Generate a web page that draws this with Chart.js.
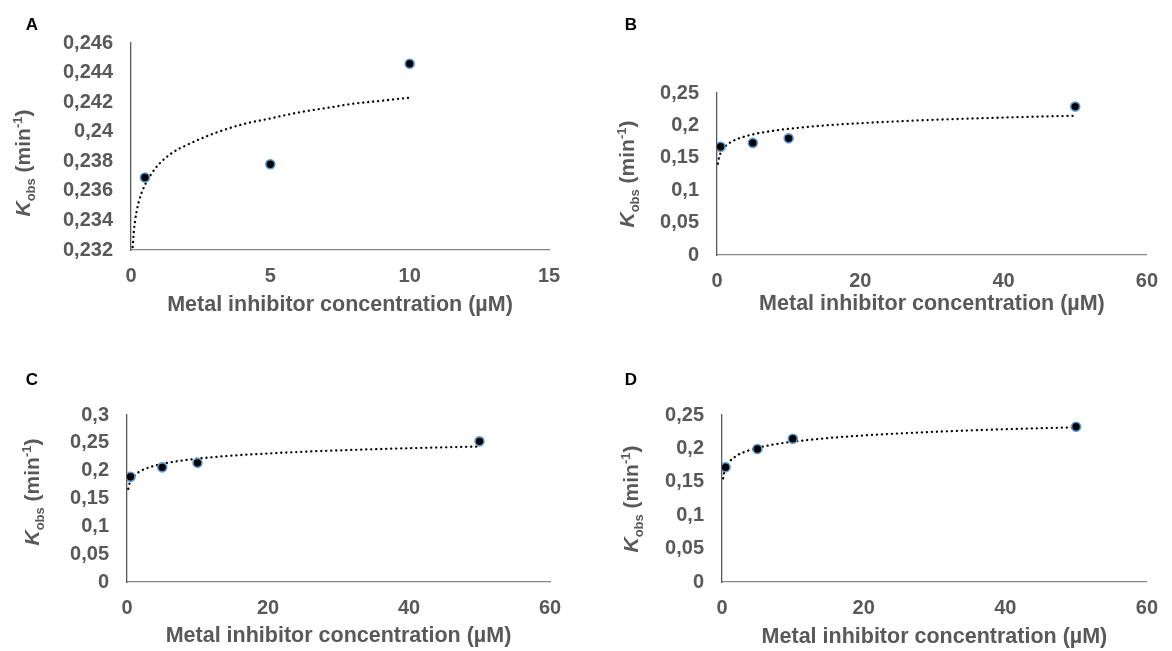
<!DOCTYPE html>
<html>
<head>
<meta charset="utf-8">
<script src="https://cdn.jsdelivr.net/npm/chart.js@4.4.1/dist/chart.umd.min.js"></script>
<style>
  body { margin: 0; background: #fff; }
  #wrap { position: relative; width: 1172px; height: 651px; overflow: hidden; }
  canvas { position: absolute; }
  .tag { position: absolute; font: bold 17px "Liberation Sans", Arial, sans-serif; color: #000; transform: translate(-50%, -50%); }
</style>
</head>
<body>
<div id="wrap">
  <canvas id="cA" width="580" height="330" style="left:0;top:0"></canvas>
  <canvas id="cB" width="592" height="330" style="left:580px;top:0"></canvas>
  <canvas id="cC" width="580" height="321" style="left:0;top:330px"></canvas>
  <canvas id="cD" width="592" height="321" style="left:580px;top:330px"></canvas>
  <div class="tag" style="left:32px;top:25px">A</div>
  <div class="tag" style="left:631px;top:25px">B</div>
  <div class="tag" style="left:32px;top:380px">C</div>
  <div class="tag" style="left:631px;top:380px">D</div>
</div>
<script>
// measured points (x in µM, Kobs in min-1)
const xA = [0.5, 5, 10];
const yA = [0.2369, 0.2378, 0.2446];
const xBCD = [0.5, 5, 10, 50];
const yB = [0.167, 0.173, 0.180, 0.229];
const yC = [0.189, 0.206, 0.214, 0.2527];
const yD = [0.1717, 0.1991, 0.2145, 0.2325];

// dotted trend lines
const trendXA = [0.06, 0.1, 0.15, 0.2, 0.3, 0.5, 0.75, 1, 1.5, 2, 3, 4, 5, 6, 7, 8, 9, 10];
const trendYA = [0.2322, 0.2332, 0.2340, 0.2346, 0.2354, 0.2364, 0.2372, 0.2378, 0.2386, 0.2391,
                 0.2399, 0.2405, 0.2409, 0.2413, 0.2416, 0.2419, 0.2421, 0.2423];
const trendXB = [0.135, 0.2, 0.3, 0.5, 0.75, 1, 1.5, 2, 3, 5, 7, 10, 15, 20, 25, 30, 35, 40, 45, 50];
const trendYB = [0.1410, 0.1459, 0.1510, 0.1573, 0.1624, 0.1660, 0.1711, 0.1747, 0.1797, 0.1861,
                 0.1903, 0.1948, 0.1999, 0.2034, 0.2062, 0.2085, 0.2104, 0.2121, 0.2136, 0.2149];
const trendXC = [0.18, 0.3, 0.5, 1, 2, 3, 5, 7, 10, 15, 20, 25, 30, 35, 40, 45, 50];
const trendYC = [0.1674, 0.1743, 0.1811, 0.1905, 0.1999, 0.2053, 0.2122, 0.2168, 0.2216, 0.2271,
                 0.2309, 0.2340, 0.2364, 0.2385, 0.2403, 0.2419, 0.2433];
const trendXD = [0.165, 0.3, 0.5, 1, 2, 3, 5, 7, 10, 15, 20, 25, 30, 35, 40, 45, 50];
const trendYD = [0.1552, 0.1632, 0.1700, 0.1793, 0.1886, 0.1940, 0.2008, 0.2053, 0.2101, 0.2155,
                 0.2194, 0.2224, 0.2248, 0.2269, 0.2287, 0.2302, 0.2316];

// axis ticks
const xTicksA = [0, 5, 10, 15];
const xTicksBCD = [0, 20, 40, 60];
const yTicksA = [0.232, 0.234, 0.236, 0.238, 0.24, 0.242, 0.244, 0.246];
const yTicksBD = [0, 0.05, 0.1, 0.15, 0.2, 0.25];
const yTicksC = [0, 0.05, 0.1, 0.15, 0.2, 0.25, 0.3];

const FONT = '"Liberation Sans", Arial, sans-serif';
const GREY = '#595959';

const toPts = (xs, ys) => xs.map((x, i) => ({ x: x, y: ys[i] }));
const fmt = v => String(+Number(v).toFixed(4)).replace('.', ',');

// rotated "Kobs (min-1)" with italic K, subscript and superscript
const kobsTitle = {
  id: 'kobsTitle',
  afterDraw(chart, args, opts) {
    const ctx = chart.ctx;
    const parts = [
      { t: 'K', f: 'italic bold 21px ' + FONT, dy: 0 },
      { t: 'obs', f: 'bold 13px ' + FONT, dy: 5 },
      { t: ' (min', f: 'bold 21px ' + FONT, dy: 0 },
      { t: '-1', f: 'bold 13px ' + FONT, dy: -8 },
      { t: ')', f: 'bold 21px ' + FONT, dy: 0 }
    ];
    ctx.save();
    ctx.fillStyle = GREY;
    ctx.textBaseline = 'alphabetic';
    let total = 0;
    parts.forEach(p => { ctx.font = p.f; p.w = ctx.measureText(p.t).width; total += p.w; });
    ctx.translate(opts.x, opts.y);
    ctx.rotate(-Math.PI / 2);
    let x = -total / 2;
    parts.forEach(p => { ctx.font = p.f; ctx.fillText(p.t, x, p.dy + 7); x += p.w; });
    ctx.restore();
  }
};

function makeChart(id, p) {
  new Chart(document.getElementById(id), {
    type: 'scatter',
    data: {
      datasets: [
        {
          data: toPts(p.x, p.y),
          pointBackgroundColor: '#000',
          pointBorderColor: '#5b9bd5',
          pointBorderWidth: 1.6,
          pointRadius: 4.5,
          pointHoverRadius: 4.5
        },
        {
          data: toPts(p.tx, p.ty),
          showLine: true,
          borderColor: '#000',
          borderWidth: 2.3,
          borderDash: [0.1, 4.9],
          borderCapStyle: 'round',
          cubicInterpolationMode: 'monotone',
          pointRadius: 0,
          fill: false
        }
      ]
    },
    options: {
      responsive: false,
      animation: false,
      events: [],
      layout: { padding: { left: 0, top: p.top, right: p.w - p.right, bottom: p.h - p.bottom - p.xh } },
      plugins: {
        legend: { display: false },
        tooltip: { enabled: false },
        kobsTitle: { x: p.titleX, y: p.titleY }
      },
      scales: {
        x: {
          type: 'linear',
          min: p.xt[0],
          max: p.xt[p.xt.length - 1],
          afterBuildTicks: s => { s.ticks = p.xt.map(v => ({ value: v })); },
          afterFit: s => { s.height = p.xh; },
          grid: { display: false, drawTicks: false },
          border: { display: true, color: '#868686', width: 1.3 },
          ticks: { padding: 14, color: GREY, maxRotation: 0, font: { family: FONT, size: 20, weight: 'bold' } },
          title: {
            display: true,
            text: 'Metal inhibitor concentration (µM)',
            color: GREY,
            padding: 0,
            font: { family: FONT, size: 21.5, weight: 'bold' }
          }
        },
        y: {
          type: 'linear',
          min: p.yt[0],
          max: p.yt[p.yt.length - 1],
          afterBuildTicks: s => { s.ticks = p.yt.map(v => ({ value: v })); },
          afterFit: s => { s.width = p.left; },
          grid: { display: false, drawTicks: false },
          border: { display: true, color: '#595959', width: 1.3 },
          ticks: { padding: 18, color: GREY, callback: fmt, font: { family: FONT, size: 20, weight: 'bold' } }
        }
      }
    },
    plugins: [kobsTitle]
  });
}

makeChart('cA', { x: xA, y: yA, tx: trendXA, ty: trendYA, xt: xTicksA, yt: yTicksA,
  w: 580, h: 330, left: 131, right: 549, top: 43, bottom: 250, xh: 68, titleX: 23, titleY: 163 });
makeChart('cB', { x: xBCD, y: yB, tx: trendXB, ty: trendYB, xt: xTicksBCD, yt: yTicksBD,
  w: 592, h: 330, left: 137, right: 577, top: 93, bottom: 255, xh: 62, titleX: 47, titleY: 174 });
makeChart('cC', { x: xBCD, y: yC, tx: trendXC, ty: trendYC, xt: xTicksBCD, yt: yTicksC,
  w: 580, h: 321, left: 127, right: 550, top: 85, bottom: 252, xh: 67, titleX: 32, titleY: 162 });
makeChart('cD', { x: xBCD, y: yD, tx: trendXD, ty: trendYD, xt: xTicksBCD, yt: yTicksBD,
  w: 592, h: 321, left: 142, right: 577, top: 85, bottom: 252, xh: 68, titleX: 51, titleY: 169 });
</script>
</body>
</html>
